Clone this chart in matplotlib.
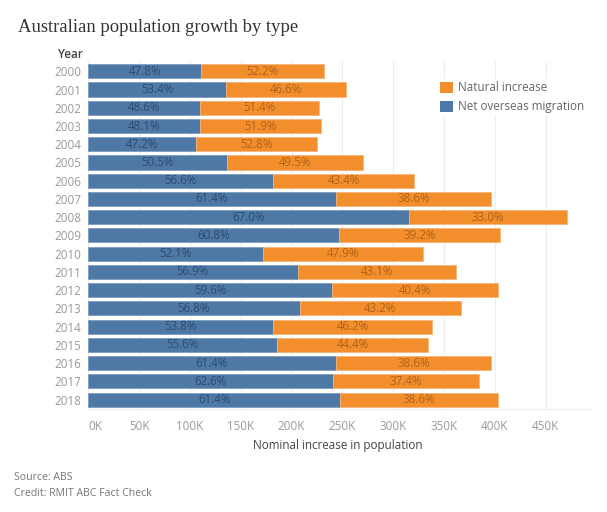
import matplotlib.pyplot as plt
import numpy as np

years = [str(y) for y in range(2000, 2019)]
# persons
net_overseas = [110900, 135400, 110200, 110100, 106200, 136400, 181600, 243300, 315400, 246500,
                171600, 206000, 240100, 208100, 182100, 186000, 243300, 240700, 247700]
natural = [121100, 118200, 116500, 118900, 118800, 133600, 139200, 153000, 155300, 158900,
           157800, 156100, 162700, 158300, 156400, 148600, 153000, 143800, 155800]
xticks = np.arange(0, 450001, 50000)

blue = "#4e79a7"
orange = "#f28e2b"

plt.rcParams['font.family'] = ['Open Sans', 'DejaVu Sans']

fig = plt.figure(figsize=(6.07, 5.12), dpi=100)
ax = fig.add_axes([0.1455, 0.2016, 0.8265, 0.677])

mig = np.array(net_overseas)
nat = np.array(natural)
tot = mig + nat
y = np.arange(len(years))

ax.barh(y, mig, height=0.77, color=blue, edgecolor="#7d9dc0", linewidth=0.6, zorder=2,
        label="Net overseas migration")
ax.barh(y, nat, left=mig, height=0.77, color=orange, edgecolor="#f6b478", linewidth=0.6, zorder=2,
        label="Natural increase")

for i in range(len(years)):
    pm = mig[i] / tot[i] * 100
    pn = 100 - pm
    ax.text(mig[i] / 2, i, f"{pm:.1f}%", ha="center", va="center", fontsize=8.3,
            color="#2e4b6e", zorder=3)
    ax.text(mig[i] + nat[i] / 2, i, f"{pn:.1f}%", ha="center", va="center", fontsize=8.3,
            color="#b0621c", zorder=3)

ax.set_ylim(len(years) - 0.5, -0.5)
ax.set_xlim(0, 493700)
ax.set_yticks(y)
ax.set_yticklabels(years)
ax.set_xticks(xticks)
ax.set_xticklabels([f"{int(v/1000)}K" for v in xticks])
ax.get_xticklabels()[0].set_horizontalalignment("left")
ax.tick_params(axis="both", length=0, labelsize=8.4, labelcolor="#9a9a9a")
ax.tick_params(axis="y", pad=5)
ax.tick_params(axis="x", pad=8)
ax.grid(axis="x", color="#ececec", linewidth=0.8, zorder=0)
ax.set_axisbelow(True)
for s in ["top", "right", "left"]:
    ax.spines[s].set_visible(False)
ax.spines["bottom"].set_color("#eeeeee")

fig.text(0.03, 1 - 31.7/512, "Australian population growth by type", family="Liberation Serif",
         fontsize=13.4, color="#333333", va="baseline")
fig.text(83/607, 1 - 55/512, "Year", ha="right", va="center", fontsize=8.4, color="#444444",
         fontweight="semibold")
fig.text(338/607, 1 - 446/512, "Nominal increase in population", ha="center", va="center",
         fontsize=8.4, color="#444444")
fig.text(14/607, 1 - 478/512, "Source: ABS", va="center", fontsize=7.6, color="#777777")
fig.text(14/607, 1 - 494/512, "Credit: RMIT ABC Fact Check", va="center", fontsize=7.6, color="#777777")

h, l = ax.get_legend_handles_labels()
leg = fig.legend(h[::-1], l[::-1], loc="upper left", bbox_to_anchor=(438/607, 1 - 79/512),
                 frameon=True, facecolor="white", edgecolor="none", framealpha=1,
                 fontsize=8.4, handlelength=1.05, handleheight=1.05, handletextpad=0.45,
                 labelspacing=0.5, borderpad=0.2, borderaxespad=0)
for t in leg.get_texts():
    t.set_color("#666666")
for p in leg.get_patches():
    p.set_linewidth(0)

fig.savefig("out.png", dpi=100)
